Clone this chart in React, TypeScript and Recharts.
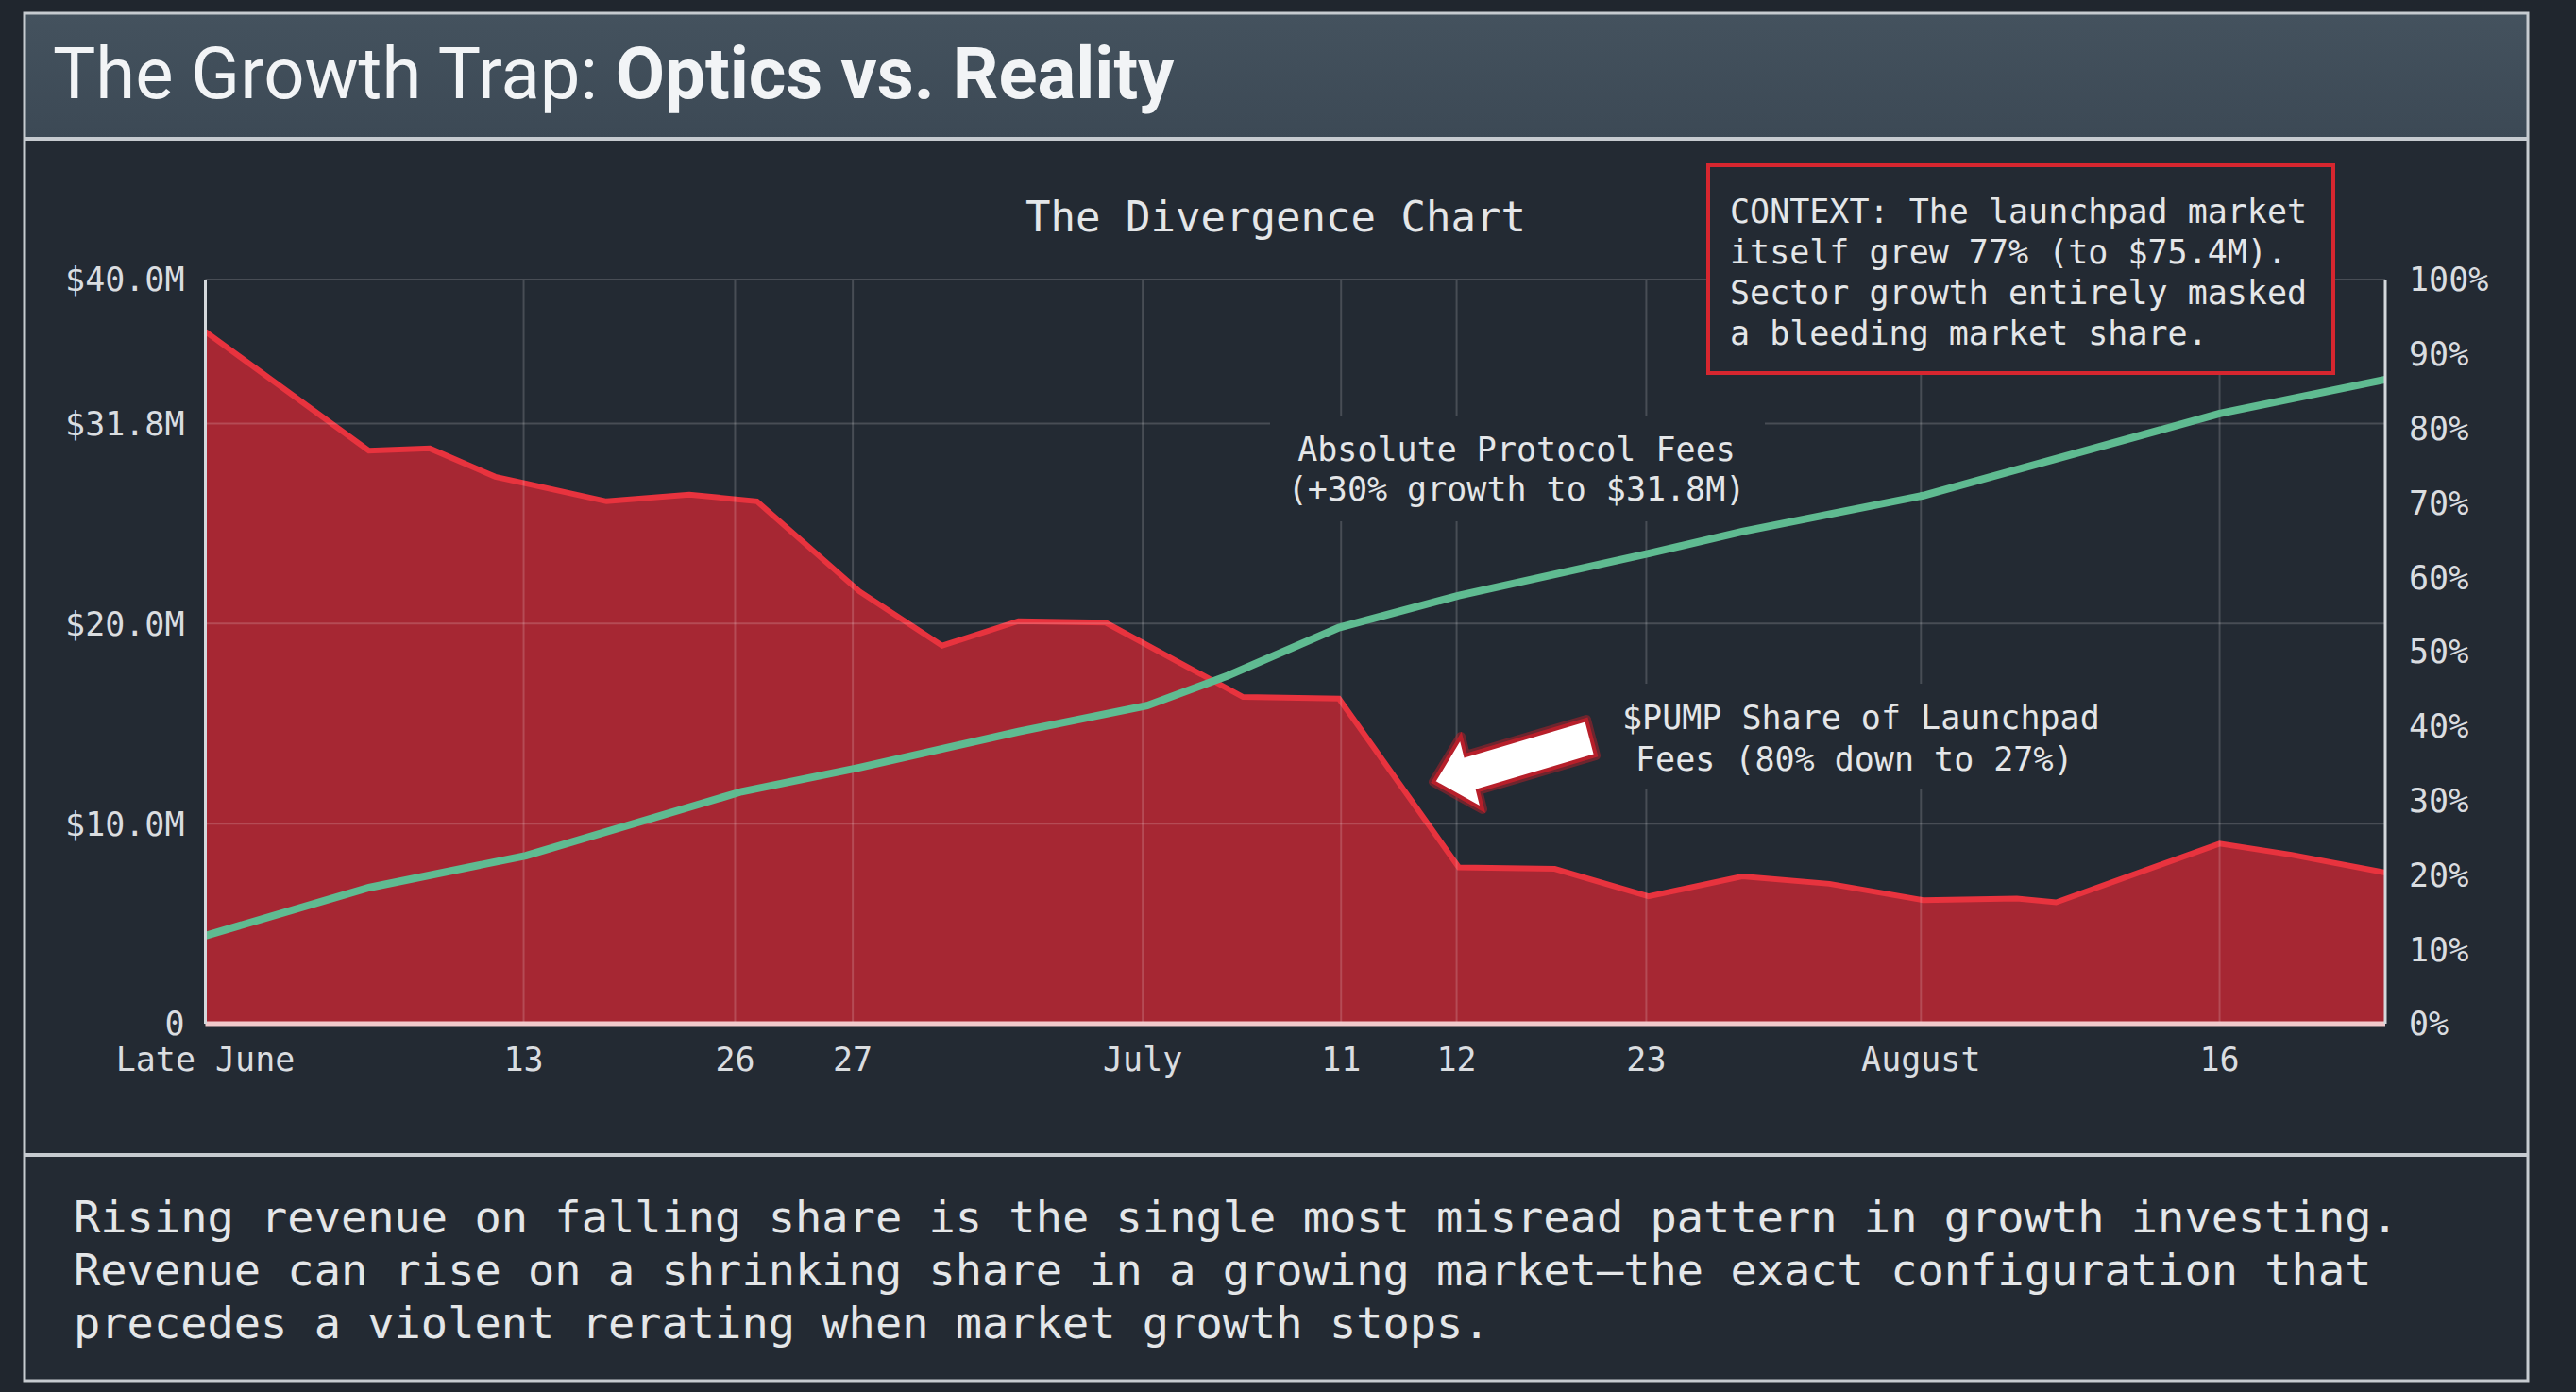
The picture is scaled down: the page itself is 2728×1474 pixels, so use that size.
import React from 'react';
import { ComposedChart, Area, Line, XAxis, YAxis, CartesianGrid } from 'recharts';

// ---- data ----
const timeline = [0, 7.5, 10.3, 13.3, 14.7, 18.4, 22.2, 24.6, 25.3, 30.0, 33.8, 37.3, 41.3, 43.2, 46.9, 47.6, 52.0, 57.5, 61.9, 66.2, 70.5, 74.5, 78.8, 83.1, 84.9, 92.4, 95.7, 100];
const pumpShare = [93.0, 77.0, 77.3, 73.5, null, 70.2, 71.1, null, 70.2, 58.1, 50.8, 54.1, 53.9, null, null, 43.9, 43.7, 21.0, 20.8, 17.1, 19.8, 18.8, 16.6, 16.8, 16.3, 24.2, 22.7, 20.3];
const protocolFees = [4.4, 6.8, null, null, 8.4, null, null, 11.6, null, 12.8, null, 14.6, null, 15.9, 17.4, null, 19.8, 21.4, null, 23.5, 24.6, null, 26.4, null, null, 30.5, null, 32.2];

const xTickValues = [0, 14.6, 24.3, 29.7, 43.0, 52.1, 57.4, 66.1, 78.7, 92.4];
const xTickLabels = ['Late June', '13', '26', '27', 'July', '11', '12', '23', 'August', '16'];
const feeTickValues = [0, 10, 20, 30, 37.2];
const feeTickLabels = ['0', '$10.0M', '$20.0M', '$31.8M', '$40.0M'];
const shareTickValues = [0, 10, 20, 30, 40, 50, 60, 70, 80, 90, 100];

const contextLines = [
  'CONTEXT: The launchpad market',
  'itself grew 77% (to $75.4M).',
  'Sector growth entirely masked',
  'a bleeding market share.',
];
const feesLabel = ['Absolute Protocol Fees', '(+30% growth to $31.8M)'];
const shareLabel = ['$PUMP Share of Launchpad', 'Fees (80% down to 27%)'];
const footerLines = [
  'Rising revenue on falling share is the single most misread pattern in growth investing.',
  'Revenue can rise on a shrinking share in a growing market\u2014the exact configuration that',
  'precedes a violent rerating when market growth stops.',
];

const data = timeline.map((t, i) => ({ t, share: pumpShare[i], fees: protocolFees[i] }));

const W = 2728;
const H = 1474;
const MONO = '"DejaVu Sans Mono", "Liberation Mono", monospace';
const SANS = 'Roboto, "Open Sans", sans-serif';
const BG = '#232a33';
const FRAME = '#c6cbd0';
const TEXT = '#e4e6e8';

export default function App() {
  const tickStyle = { fill: '#dadde0', fontSize: 35, fontFamily: MONO };
  return (
    <div style={{ position: 'fixed', left: 0, top: 0, width: W, height: H, background: '#20262e', overflow: 'hidden' }}>
      {/* body and header backgrounds */}
      <div style={{ position: 'absolute', left: 26, top: 14, width: 2651, height: 1448, background: BG }} />
      <div style={{ position: 'absolute', left: 26, top: 14, width: 2651, height: 133, background: 'linear-gradient(180deg, #44525e 0%, #3c4955 100%)' }} />

      <div style={{ position: 'absolute', left: 0, top: 0 }}>
        <ComposedChart width={W} height={H} data={data} margin={{ top: 296, right: 22, bottom: 330, left: 37.5 }}>
          <XAxis
            dataKey="t"
            type="number"
            domain={[0, 100]}
            ticks={xTickValues}
            interval={0}
            tickFormatter={(v: number) => xTickLabels[xTickValues.indexOf(v)] ?? ''}
            tick={tickStyle}
            tickLine={false}
            tickSize={0}
            tickMargin={25}
            height={60}
            axisLine={{ stroke: '#f1c9cb', strokeWidth: 5 }}
          />
          <YAxis
            yAxisId="left"
            orientation="left"
            type="number"
            domain={[0, 37.2]}
            ticks={feeTickValues}
            interval={0}
            tickFormatter={(v: number) => feeTickLabels[feeTickValues.indexOf(v)] ?? ''}
            tick={tickStyle}
            tickLine={false}
            tickSize={0}
            tickMargin={22}
            width={180}
            axisLine={{ stroke: '#d4d8dc', strokeWidth: 3 }}
          />
          <YAxis
            yAxisId="right"
            orientation="right"
            type="number"
            domain={[0, 100]}
            ticks={shareTickValues}
            interval={0}
            tickFormatter={(v: number) => `${v}%`}
            tick={tickStyle}
            tickLine={false}
            tickSize={0}
            tickMargin={25}
            width={180}
            axisLine={{ stroke: '#d4d8dc', strokeWidth: 3 }}
          />
          <Area
            yAxisId="right"
            dataKey="share"
            type="linear"
            connectNulls
            fill="#a62733"
            fillOpacity={1}
            stroke="#e8333e"
            strokeWidth={6}
            dot={false}
            activeDot={false}
            isAnimationActive={false}
          />
          <CartesianGrid
            yAxisId="left"
            stroke="rgba(255,255,255,0.17)"
            strokeWidth={2}
            vertical
            horizontal
            zIndex={150}
          />
          <Line
            yAxisId="left"
            dataKey="fees"
            type="linear"
            connectNulls
            stroke="#5fbb91"
            strokeWidth={8}
            dot={false}
            activeDot={false}
            isAnimationActive={false}
          />
        </ComposedChart>
      </div>

      <svg width={W} height={H} style={{ position: 'absolute', left: 0, top: 0, pointerEvents: 'none' }}>
        {/* frame lines */}
        <rect x={26} y={14} width={2651} height={1448} fill="none" stroke={FRAME} strokeWidth={3} />
        <line x1={26} x2={2677} y1={147} y2={147} stroke={FRAME} strokeWidth={4} />
        <line x1={26} x2={2677} y1={1223} y2={1223} stroke={FRAME} strokeWidth={4} />

        {/* title */}
        <text x={56} y={104} fill="#f2f4f6" fontFamily={SANS} fontSize={76}>
          <tspan fontWeight={400}>The Growth Trap: </tspan>
          <tspan fontWeight={700}>Optics vs. Reality</tspan>
        </text>

        {/* chart title */}
        <text x={1351} y={245} fill={TEXT} fontFamily={MONO} fontSize={44} textAnchor="middle">The Divergence Chart</text>

        {/* context box */}
        <rect x={1809} y={175} width={662} height={220} fill={BG} stroke="#d6262f" strokeWidth={4} />
        {contextLines.map((s, i) => (
          <text key={s} x={1832} y={236 + i * 43} fill={TEXT} fontFamily={MONO} fontSize={35}>{s}</text>
        ))}

        {/* fees label */}
        <rect x={1345} y={440} width={524} height={112} fill={BG} />
        {feesLabel.map((s, i) => (
          <text key={s} x={1606} y={488 + i * 42} fill={TEXT} fontFamily={MONO} fontSize={35} textAnchor="middle">{s}</text>
        ))}

        {/* share label */}
        <rect x={1700} y={724} width={540} height={112} fill={BG} />
        {shareLabel.map((s, i) => (
          <text key={s} x={i === 0 ? 1718 : 1732} y={772 + i * 44} fill={TEXT} fontFamily={MONO} fontSize={35}>{s}</text>
        ))}

        {/* arrow */}
        <polygon
          points="1518,828 1547,780 1552,800 1680,762 1690,800 1565,837 1570,857"
          fill="none"
          stroke="rgba(200,30,40,0.45)"
          strokeWidth={10}
          strokeLinejoin="round"
        />
        <polygon
          points="1518,828 1547,780 1552,800 1680,762 1690,800 1565,837 1570,857"
          fill="#ffffff"
          stroke="#b71f2a"
          strokeWidth={4}
          strokeLinejoin="miter"
        />

        {/* footer */}
        {footerLines.map((s, i) => (
          <text key={i} x={78} y={1305 + i * 56} fill={TEXT} fontFamily={MONO} fontSize={47} xmlSpace="preserve">{s}</text>
        ))}
      </svg>
    </div>
  );
}
